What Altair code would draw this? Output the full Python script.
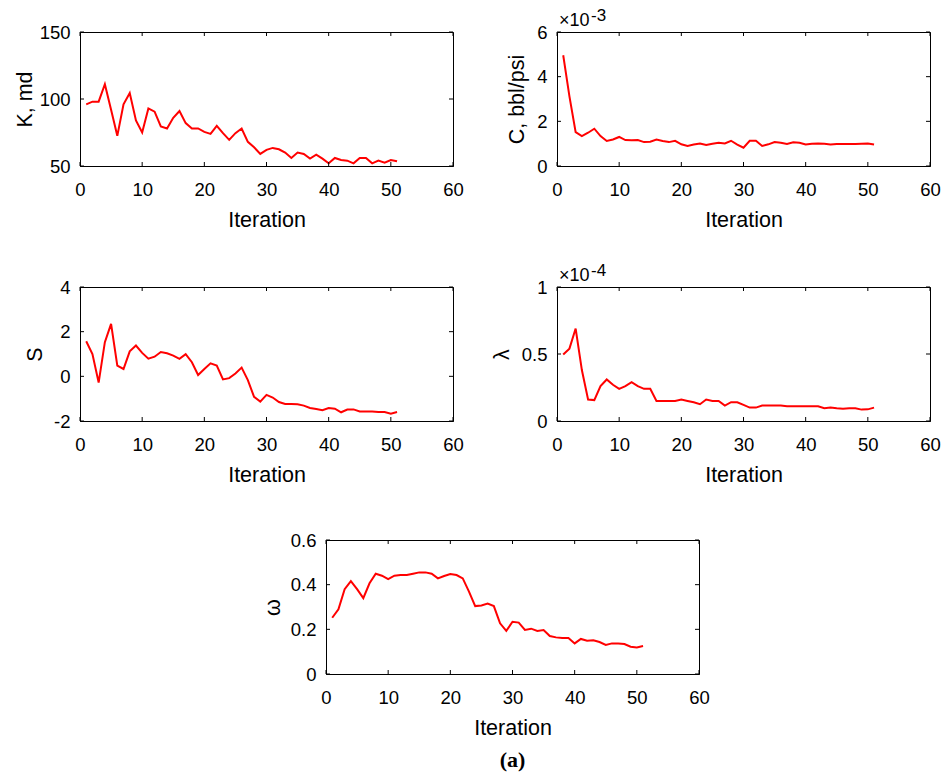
import altair as alt
import pandas as pd

# ---------------- data ----------------
iterations = list(range(1, 52))

K_md = [96, 98, 98, 111, 92, 72.5, 96, 104.5, 84, 75,
        93, 90.5, 79.5, 78, 86, 91, 82, 78, 78, 75.5,
        74, 80, 74.5, 69.5, 74.5, 78, 68, 64, 59, 62,
        63.5, 62.5, 60, 56, 60, 59, 55.5, 58.5, 55.5, 52,
        56, 54.5, 54, 52, 56, 56, 52, 54, 52.5, 54.5, 53.5]

C_e3 = [4.96, 3.12, 1.52, 1.34, 1.49, 1.67, 1.34, 1.12, 1.19, 1.30,
        1.16, 1.15, 1.16, 1.07, 1.09, 1.18, 1.12, 1.07, 1.13, 0.97,
        0.90, 0.96, 1.01, 0.94, 1.00, 1.04, 1.01, 1.13, 0.96, 0.82,
        1.13, 1.13, 0.90, 0.97, 1.07, 1.04, 0.99, 1.06, 1.04, 0.96,
        1.00, 1.01, 1.00, 0.96, 0.99, 0.99, 0.99, 0.99, 1.00, 1.01, 0.96]

S_skin = [1.57, 1.0, -0.28, 1.53, 2.35, 0.48, 0.33, 1.12, 1.38, 1.05,
          0.79, 0.88, 1.09, 1.03, 0.93, 0.78, 0.99, 0.63, 0.06, 0.33,
          0.58, 0.48, -0.14, -0.08, 0.13, 0.39, -0.17, -0.92, -1.13, -0.83,
          -0.95, -1.15, -1.24, -1.24, -1.25, -1.31, -1.42, -1.46, -1.52, -1.42,
          -1.45, -1.61, -1.49, -1.48, -1.57, -1.57, -1.58, -1.60, -1.60, -1.67, -1.60]

lambda_e4 = [0.496, 0.54, 0.69, 0.38, 0.16, 0.156, 0.26, 0.31, 0.27, 0.24,
             0.26, 0.29, 0.26, 0.24, 0.24, 0.15, 0.15, 0.15, 0.15, 0.16,
             0.15, 0.14, 0.125, 0.16, 0.15, 0.15, 0.115, 0.14, 0.14, 0.12,
             0.10, 0.10, 0.115, 0.115, 0.115, 0.115, 0.11, 0.11, 0.11, 0.11,
             0.11, 0.11, 0.095, 0.10, 0.095, 0.092, 0.095, 0.095, 0.085, 0.087, 0.10]

omega = [0.252, 0.29, 0.38, 0.416, 0.38, 0.34, 0.406, 0.449, 0.44, 0.425,
         0.44, 0.443, 0.443, 0.449, 0.455, 0.455, 0.449, 0.428, 0.439, 0.448,
         0.443, 0.428, 0.369, 0.304, 0.307, 0.315, 0.304, 0.227, 0.193, 0.234,
         0.23, 0.197, 0.203, 0.193, 0.197, 0.17, 0.164, 0.161, 0.161, 0.137,
         0.157, 0.149, 0.151, 0.143, 0.13, 0.137, 0.137, 0.134, 0.122, 0.119, 0.125]

x_ticks = [0, 10, 20, 30, 40, 50, 60]
K_ticks = [50, 100, 150]
C_ticks = [0, 2, 4, 6]
S_ticks = [-2, 0, 2, 4]
lambda_ticks = [0, 0.5, 1]
omega_ticks = [0, 0.2, 0.4, 0.6]

x_title = "Iteration"
panel_label = "(a)"

# ---------------- layout / style ----------------
W, H = 373, 134
RED = "#ff0000"
FONT = "Liberation Sans"
TICK_LEN = 4

df = pd.DataFrame({"iter": iterations, "K": K_md, "C": C_e3, "S": S_skin,
                   "lam": lambda_e4, "omega": omega})
xtick_df = pd.DataFrame({"iter": x_ticks})


def panel(field, ydomain, yticks, ytitle, title_x, exponent=None, extra=None):
    xscale = alt.Scale(domain=[0, 60])
    yscale = alt.Scale(domain=ydomain)
    xaxis = alt.Axis(values=x_ticks, title=x_title, ticks=False, labelPadding=29,
                     labelBaseline="alphabetic", titleBaseline="alphabetic",
                     titleY=60, labelFlush=False, grid=False,
                     labelExpr="'' + datum.value")
    yaxis = alt.Axis(values=yticks, title=ytitle, ticks=False, labelPadding=10,
                     titleX=title_x, titleBaseline="middle", grid=False,
                     labelFlush=False, labelExpr="'' + datum.value")
    X = alt.X("iter:Q", scale=xscale, axis=xaxis)
    Y = alt.Y(f"{field}:Q", scale=yscale, axis=yaxis)
    line = alt.Chart(df).mark_line(color=RED, strokeWidth=2).encode(x=X, y=Y)
    ytick_df = pd.DataFrame({field: yticks})
    xt_bottom = alt.Chart(xtick_df).mark_rule(color="black", strokeWidth=1).encode(
        x=X, y=alt.value(H), y2=alt.value(H - TICK_LEN))
    xt_top = alt.Chart(xtick_df).mark_rule(color="black", strokeWidth=1).encode(
        x=X, y=alt.value(0), y2=alt.value(TICK_LEN))
    yt_left = alt.Chart(ytick_df).mark_rule(color="black", strokeWidth=1).encode(
        y=Y, x=alt.value(0), x2=alt.value(TICK_LEN))
    yt_right = alt.Chart(ytick_df).mark_rule(color="black", strokeWidth=1).encode(
        y=Y, x=alt.value(W), x2=alt.value(W - TICK_LEN))
    layers = [line, xt_bottom, xt_top, yt_left, yt_right]
    if exponent is not None:
        base_txt = alt.Chart(pd.DataFrame({"s": ["×10"]})).mark_text(
            align="left", baseline="alphabetic", font=FONT, fontSize=18,
            color="black").encode(text="s:N", x=alt.value(2), y=alt.value(-6))
        exp_txt = alt.Chart(pd.DataFrame({"s": [exponent]})).mark_text(
            align="left", baseline="alphabetic", font=FONT, fontSize=17,
            color="black").encode(text="s:N", x=alt.value(34), y=alt.value(-11))
        layers += [base_txt, exp_txt]
    if extra is not None:
        layers.append(extra)
    return alt.layer(*layers).properties(width=W, height=H)


label_txt = alt.Chart(pd.DataFrame({"s": [panel_label]})).mark_text(
    align="center", baseline="alphabetic", font="Liberation Serif", fontSize=22,
    fontWeight="bold", color="black").encode(
    text="s:N", x=alt.value(W / 2), y=alt.value(H + 93))

p1 = panel("K", [50, 150], K_ticks, "K, md", -55)
p2 = panel("C", [0, 6], C_ticks, "C, bbl/psi", -40, exponent="-3")
p3 = panel("S", [-2, 4], S_ticks, "S", -45)
p4 = panel("lam", [0, 1], lambda_ticks, "λ", -55, exponent="-4")
p5 = panel("omega", [0, 0.6], omega_ticks, "ω", -53, extra=label_txt)

spacer = alt.Chart(pd.DataFrame({"s": [""]})).mark_text().encode(
    text="s:N").properties(width=246, height=H,
                           view=alt.ViewBackground(stroke="transparent"))

row1 = alt.hconcat(p1, p2, spacing=104, bounds="flush")
row2 = alt.hconcat(p3, p4, spacing=104, bounds="flush")
row3 = alt.hconcat(spacer, p5, spacing=0, bounds="flush")

top_rows = alt.vconcat(row1, row2, spacing=30)
chart = alt.vconcat(top_rows, row3, spacing=44).properties(
    padding={"left": 13, "top": 6, "right": 5, "bottom": 2},
    background="white",
).configure_view(stroke="black", strokeWidth=1).configure_axis(
    grid=False, domainColor="black", domainWidth=1, labelColor="black",
    titleColor="black", labelFont=FONT, titleFont=FONT, labelFontSize=18.5,
    titleFontSize=21.5, titleFontWeight="normal"
)

chart.save("out.html", embed_options={"renderer": "svg", "actions": False})
